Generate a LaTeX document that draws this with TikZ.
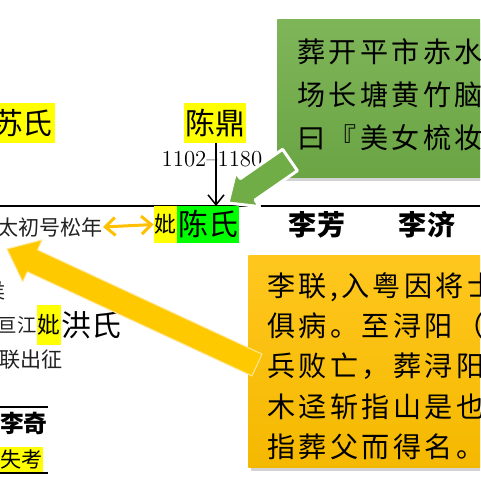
\documentclass[tikz,border=0pt]{standalone}
\usepackage{fontspec}
\newfontfamily\cjk{Noto Sans CJK SC}
\newfontfamily\cjknote[LetterSpace=12]{Noto Sans CJK SC}
\usetikzlibrary{arrows.meta,shadows}
\newcommand{\fsz}[1]{\fontsize{#1}{#1}\selectfont}
\definecolor{hlyellow}{HTML}{FFFF00}
\definecolor{hlgreen}{HTML}{00FF00}
\definecolor{notegreen}{HTML}{70AD47}
\definecolor{noteorange}{HTML}{FFC000}
\definecolor{inkgray}{HTML}{222222}
\tikzset{
  hlbox/.style={inner sep=0pt, text=black},
  plain/.style={inner sep=0pt, text=inkgray},
  notebox/.style={anchor=north west, inner sep=0pt,
    drop shadow={shadow xshift=1.5pt, shadow yshift=-2pt, opacity=0.35}},
  notetext/.style={anchor=west, align=left, inner sep=0pt, text=black},
  callarrow/.style={draw=white, line width=0.06cm, line join=round},
  kin/.style={line width=0.05cm}
}
\begin{document}
\begin{tikzpicture}[x=0.02cm,y=-0.02cm]
\useasboundingbox (0,0) rectangle (480,480);
\clip (0,0) rectangle (480,480);
{\cjk

% Drawing descent line
\coordinate (lfar) at (0,206);
\coordinate (rfar) at (480,206);
\coordinate (wed) at (216,206);
\draw[kin] (lfar) -- (rfar);

% Marking parents
\node[hlbox, fill=hlyellow, minimum width=1.28cm, minimum height=0.8cm] (su) at (23,123) {\fsz{17pt}苏氏};
\node[hlbox, fill=hlyellow, minimum width=1.24cm, minimum height=0.8cm] (cd) at (215,123) {\fsz{17pt}陈鼎};
\node[inner sep=0pt] (yrs) at (212,159) {\fsz{13pt}\rmfamily 1102--1180};

% Drawing arrow cd wed
\draw[line width=0.03cm, -{Straight Barb[length=0.2cm,width=0.32cm]}] (cd.south -| wed) -- (wed);

% Marking couple
\node[hlbox, fill=hlyellow, minimum width=0.46cm, minimum height=0.74cm] (bi) at (165.5,224.5) {\fsz{12.5pt}妣};
\node[hlbox, fill=hlgreen, minimum width=1.24cm, minimum height=0.74cm] (cs) at (208,224.5) {\fsz{17pt}陈氏};
\node[plain, anchor=east] (sn) at (103,227) {\fsz{12pt}太初号松年};
\draw[line width=0.06cm, noteorange, {Straight Barb[length=0.2cm,width=0.36cm]}-{Straight Barb[length=0.2cm,width=0.36cm]}] (sn.east) -- (bi.west);

% Marking sons
\node[hlbox] (lf) at (317,225) {\fsz{16pt}\bfseries 李芳};
\node[hlbox] (lj) at (427,225) {\fsz{16pt}\bfseries 李济};

% Marking left column
\node[plain, anchor=east] (hou) at (6,291) {\fsz{12pt}侯};
\node[plain, anchor=east] (hj) at (37,325) {\fsz{11pt}亘江};
\node[hlbox, fill=hlyellow, minimum width=0.48cm, minimum height=0.8cm] (bi2) at (49,325) {\fsz{13pt}妣};
\node[hlbox, anchor=west] (hs) at (61,325) {\fsz{17pt}洪氏};
\node[plain, anchor=west] (lcz) at (-1,360) {\fsz{12pt}联出征};
\coordinate (qa) at (0,407);
\coordinate (qb) at (48,407);
\draw[line width=0.04cm] (qa) -- (qb);
\node[hlbox, anchor=east] (lq) at (48,423) {\fsz{13.5pt}\bfseries 李奇};
\node[hlbox, fill=hlyellow, minimum width=0.86cm, minimum height=0.5cm] (sk) at (21.5,459.5) {\fsz{12pt}失考};
\coordinate (qc) at (0,473);
\coordinate (qd) at (48,473);
\draw[line width=0.04cm] (qc) -- (qd);

% Drawing notes
\node[notebox, top color=notegreen!90!white, bottom color=notegreen!95!black, minimum width=4.6cm, minimum height=3.16cm] (gnote) at (277,19) {};
\node[notetext, font={\cjknote\fontsize{16pt}{24.4pt}\selectfont}] (gtext) at (297,95) {葬开平市赤水\\场长塘黄竹脑\\曰『美女梳妆};
\node[notebox, top color=noteorange!88!white, bottom color=noteorange!96!black, minimum width=5.04cm, minimum height=4.24cm] (onote) at (248,255) {};
\node[notetext, font={\cjknote\fontsize{16pt}{22.96pt}\selectfont}] (otext) at (267,366) {李联,入粤因将士\\俱病。至浔阳（今\\兵败亡，葬浔阳\\木迳斩指山是也\\指葬父而得名。};

% Drawing arrow gnote cs
\filldraw[callarrow, fill=notegreen] (228,203) -- (235.7,172) -- (240.3,178.6) -- (282.6,149.3) -- (297.4,170.7) -- (255.1,200) -- (259.7,206.6) -- cycle;

% Drawing arrow onote sn
\filldraw[callarrow, fill=noteorange!85!yellow, draw=white!60!noteorange, line width=0.02cm] (7,249) -- (42.1,239.9) -- (37.5,249.9) -- (262,354.1) -- (252,375.9) -- (27.3,271.7) -- (22.7,281.7) -- cycle;
}
\end{tikzpicture}
\end{document}
